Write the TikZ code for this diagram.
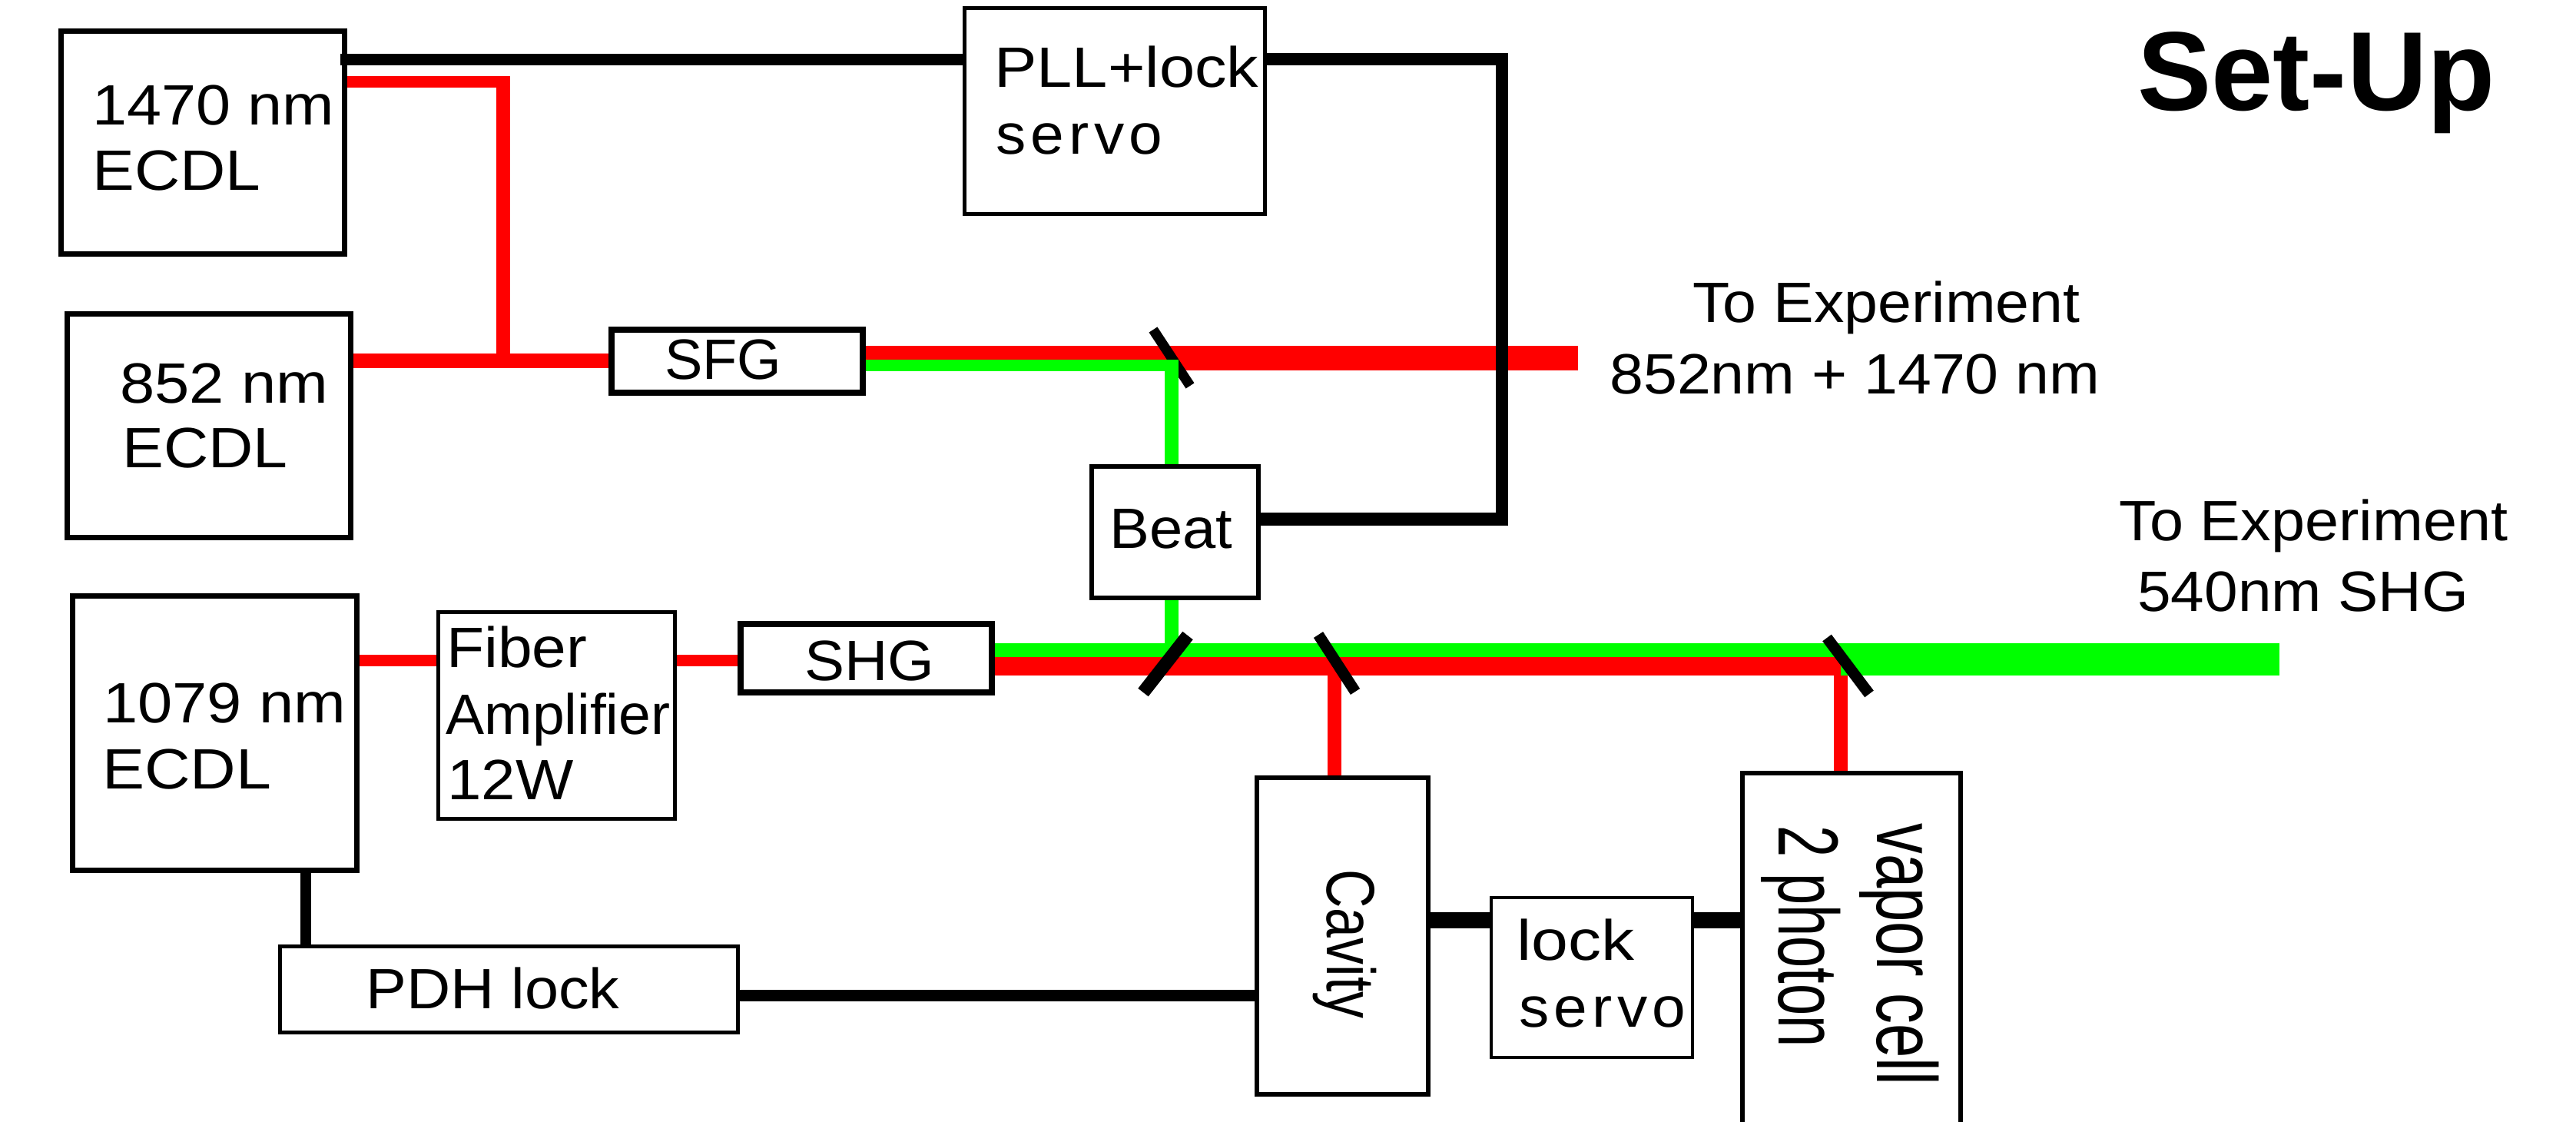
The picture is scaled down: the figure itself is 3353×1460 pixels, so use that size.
\documentclass[tikz,border=0pt]{standalone}
\usepackage{fontspec}
\usepackage{graphicx}
\setmainfont{Liberation Sans}
\newcommand{\pxbox}[6]{%
  \pgfmathsetmacro\bxw{(#4-#2-#6)*0.5}%
  \pgfmathsetmacro\bxh{(#5-#3-#6)*0.5}%
  \pgfmathsetmacro\bxl{#6*0.5}%
  \node[boxnode,line width=\bxl pt,minimum width=\bxw pt,minimum height=\bxh pt] (#1) at ({(#2+#4)/2},{(#3+#5)/2}) {};}
% width in px, optional vertical stretch
\newcommand{\fitw}[3][1]{\resizebox{\dimexpr#2pt/2\relax}{#1\height}{#3}}
\tikzset{
  boxnode/.style={draw=black,fill=none,rectangle,inner sep=0pt},
  lab/.style={inner sep=0pt,anchor=base west,font=\fontsize{37}{44}\selectfont},
  beamred/.style={draw=red,line width=#1*0.5pt},
  beamgreen/.style={draw=green,line width=#1*0.5pt},
  wire/.style={draw=black,line width=#1*0.5pt},
  mirrorbar/.style={draw=black,line width=#1*0.5pt},
}
\definecolor{red}{RGB}{255,0,0}
\definecolor{green}{RGB}{0,255,0}
\begin{document}
\begin{tikzpicture}[x=0.5pt,y=-0.5pt]
\useasboundingbox (0,0) rectangle (3353,1460);
\clip (0,0) rectangle (3353,1460);
\fill[white] (0,0) rectangle (3353,1460);
% boxes
\pxbox{b1470}{76}{37}{452}{334}{7}
\pxbox{b852}{84}{405}{460}{703}{7}
\pxbox{sfg}{792}{425}{1127}{515}{8}
\pxbox{pll}{1253}{8}{1649}{281}{5}
\pxbox{beat}{1418}{604}{1641}{781}{6}
\pxbox{b1079}{91}{772}{468}{1136}{7}
\pxbox{fiber}{568}{794}{881}{1068}{5}
\pxbox{shg}{960}{808}{1295}{905}{8}
\pxbox{pdh}{362}{1229}{963}{1346}{5}
\pxbox{cavity}{1633}{1009}{1862}{1427}{6}
\pxbox{lockservo}{1939}{1166}{2205}{1378}{4}
\pxbox{vapor}{2265}{1003}{2555}{1500}{6}
% free ends and corners
\coordinate (blackstart) at (443,77.5);
\coordinate (pllcorner) at (1955,77);
\coordinate (beatcorner) at (1955,675.5);
\coordinate (redcorner) at (664,106.5);
\coordinate (redjoin) at (655,469.5);
\coordinate (redend) at (2054,466);
\coordinate (greencorner) at (1525,468);
\coordinate (mainred) at (2396,867);
\coordinate (greenend) at (2967,858);
\coordinate (mA) at (1501,429);
\coordinate (mB) at (1549,502);
\coordinate (mC) at (1546,827);
\coordinate (mD) at (1488,901);
\coordinate (mE) at (1716,826);
\coordinate (mF) at (1764,900);
\coordinate (mG) at (2378,830);
\coordinate (mH) at (2433,903);
\coordinate (tapA) at (1737,879);
\coordinate (tapB) at (2396,879);
\coordinate (beatdown) at (1525,840);
% beams
\draw[beamred=15] (b1470.east |- redcorner) -- (redcorner);
\draw[beamred=18] (655,99) -- (redjoin);
\draw[beamred=18.5] (b852.east |- redjoin) -- (sfg.west |- redjoin);
\draw[beamred=32] (sfg.east |- redend) -- (redend);
\draw[mirrorbar=13] (mA) -- (mB);
\draw[beamgreen=15] (sfg.east |- 0,475.5) -- (1534,475.5);
\draw[beamgreen=18] (greencorner) -- (beat.north -| greencorner);
\draw[beamgreen=18] (beat.south -| beatdown) -- (beatdown);
\draw[beamred=15] (b1079.east |- 0,859.5) -- (fiber.west |- 0,859.5);
\draw[beamred=15] (fiber.east |- 0,859) -- (shg.west |- 0,859);
\draw[beamgreen=42] (shg.east |- greenend) -- (greenend);
\draw[beamred=24] (shg.east |- mainred) -- (mainred);
\draw[beamred=18] (tapA) -- (cavity.north -| tapA);
\draw[beamred=18] (tapB) -- (vapor.north -| tapB);
\draw[mirrorbar=17] (mC) -- (mD);
\draw[mirrorbar=14.5] (mE) -- (mF);
\draw[mirrorbar=14.5] (mG) -- (mH);
% wires
\draw[wire=15] (blackstart) -- (pll.west |- blackstart);
\draw[wire=16] (pll.east |- pllcorner) -- (1963,77);
\draw[wire=16] (1955,69) -- (1955,684);
\draw[wire=17] (beat.east |- beatcorner) -- (1963,675.5);
\draw[wire=14] (b1079.south -| 398,0) -- (pdh.north -| 398,0);
\draw[wire=15] (pdh.east |- 0,1295) -- (cavity.west |- 0,1295);
\draw[wire=21] (cavity.east |- 0,1197.5) -- (lockservo.west |- 0,1197.5);
\draw[wire=21] (lockservo.east |- 0,1197.5) -- (vapor.west |- 0,1197.5);
% labels
\node[lab] (t1470a) at (120,163) {\fitw{315}{1470 nm}};
\node[lab] (t1470b) at (120,248) {\fitw{219}{ECDL}};
\node[lab] (t852a) at (156,524) {\fitw{271}{852 nm}};
\node[lab] (t852b) at (159,609) {\fitw{215}{ECDL}};
\node[lab] (tsfg) at (865,493.5) {\fitw{152}{SFG}};
\node[lab] (tplla) at (1294,114) {\fitw{344}{PLL+lock}};
\node[lab] (tpllb) at (1296,201) {\fitw{217}{\addfontfeature{LetterSpace=8}servo}};
\node[lab] (tbeat) at (1444,713) {\fitw{160}{Beat}};
\node[lab] (texpa) at (2203,420) {\fitw{504}{To Experiment}};
\node[lab] (texpb) at (2095,513) {\fitw{638}{852nm + 1470 nm}};
\node[lab,font=\fontsize{73}{80}\selectfont\bfseries] (ttitle) at (2782,144) {\fitw{465}{Set-Up}};
\node[lab] (texpc) at (2758,703) {\fitw{506}{To Experiment}};
\node[lab] (texpd) at (2782,795) {\fitw{431}{540nm SHG}};
\node[lab] (t1079a) at (134,940) {\fitw{316}{1079 nm}};
\node[lab] (t1079b) at (133,1026.5) {\fitw{220}{ECDL}};
\node[lab] (tfibera) at (581,868) {\fitw{183}{Fiber}};
\node[lab] (tfiberb) at (580,955) {\fitw{292}{Amplifier}};
\node[lab] (tfiberc) at (582,1040.5) {\fitw{164}{12W}};
\node[lab] (tshg) at (1047,885) {\fitw{169}{SHG}};
\node[lab] (tpdh) at (476,1312) {\fitw{330}{PDH lock}};
\node[lab,rotate=-90] (tcav) at (1727,1131) {\fitw[1.2]{194}{Cavity}};
\node[lab] (tlocka) at (1974,1249) {\fitw{153}{lock}};
\node[lab] (tlockb) at (1977,1336) {\fitw{217}{\addfontfeature{LetterSpace=8}servo}};
\node[lab,rotate=-90] (tvapa) at (2443,1071) {\fitw[1.5]{341}{vapor cell}};
\node[lab,rotate=-90] (tvapb) at (2315,1074) {\fitw[1.5]{288}{2 photon}};
\end{tikzpicture}
\end{document}
